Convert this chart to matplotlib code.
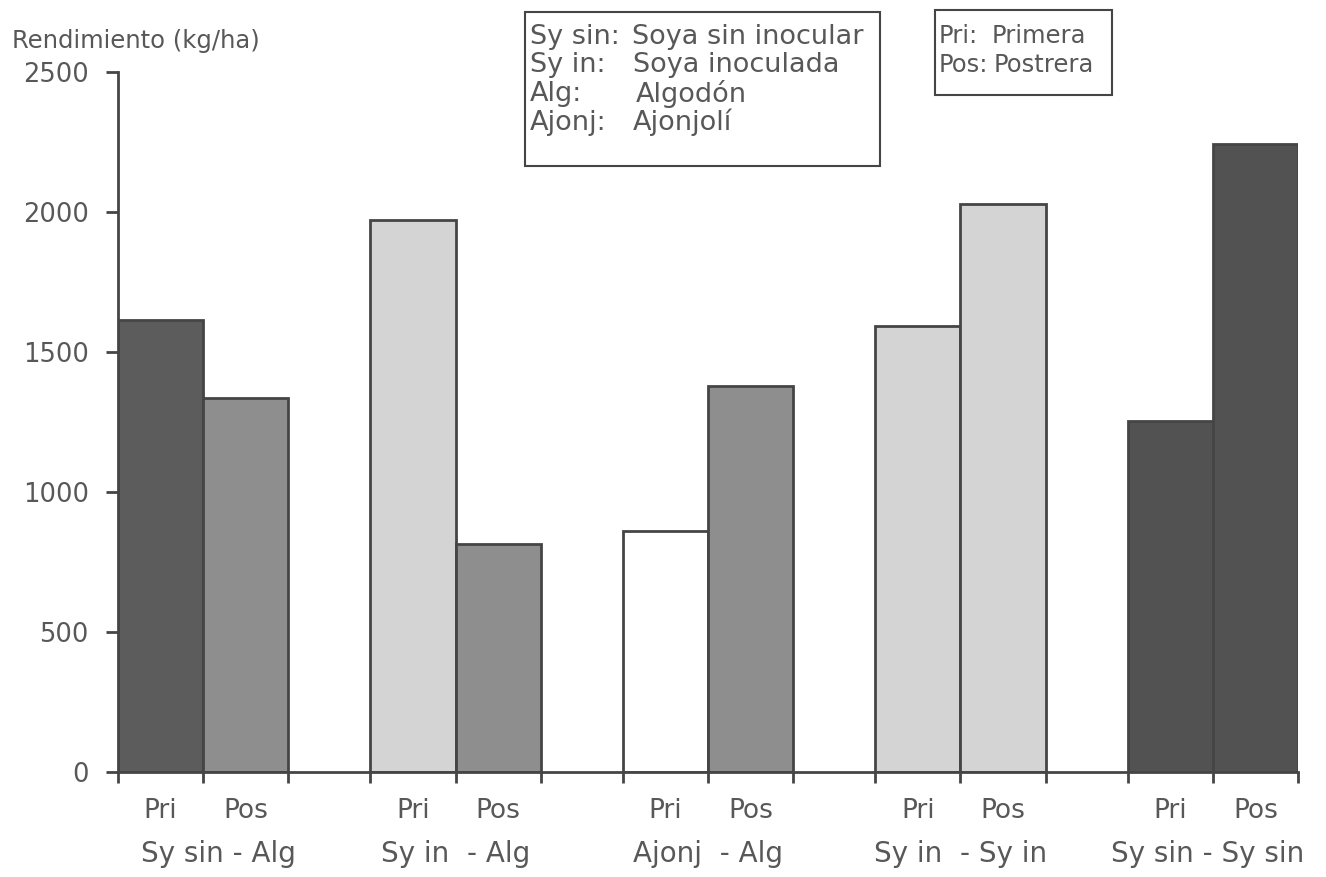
import matplotlib
matplotlib.use("Agg")
import matplotlib.pyplot as plt
from matplotlib.patches import Rectangle

plt.rcParams['font.family'] = ['DejaVu Sans']

groups = ["Sy sin - Alg", "Sy in  - Alg", "Ajonj  - Alg", "Sy in  - Sy in", "Sy sin - Sy sin"]
pri_values = [1614, 1971, 862, 1593, 1255]
pos_values = [1336, 814, 1377, 2029, 2242]
pri_colors = ["#5c5c5c", "#d4d4d4", "#ffffff", "#d4d4d4", "#525252"]
pos_colors = ["#8e8e8e", "#8e8e8e", "#8e8e8e", "#d4d4d4", "#525252"]
season_labels = ["Pri", "Pos"]
yticks = [0, 500, 1000, 1500, 2000, 2500]

txt = "#585858"
edge = "#454545"

fig = plt.figure(figsize=(13.26, 8.77), dpi=100)
ax = fig.add_axes([118/1326, 1-772/877, (1298-118)/1326, 700/877])

spacing = 2.97
centers = [i*spacing for i in range(len(groups))]
pri_x = [c - 0.5 for c in centers]
pos_x = [c + 0.5 for c in centers]

ax.bar(pri_x, pri_values, width=1.0, color=pri_colors, edgecolor=edge, linewidth=2, zorder=2)
ax.bar(pos_x, pos_values, width=1.0, color=pos_colors, edgecolor=edge, linewidth=2, zorder=2)

ax.set_xlim(centers[0]-1, centers[-1]+1)
ax.set_ylim(0, 2500)
for s in ["top", "right"]:
    ax.spines[s].set_visible(False)
for s in ["left", "bottom"]:
    ax.spines[s].set_color(edge)
    ax.spines[s].set_linewidth(2)

ax.set_yticks(yticks)
ax.set_yticklabels([str(v) for v in yticks], fontsize=18.5, color=txt)
ax.tick_params(axis='y', length=9, width=2, color=edge, pad=12)

edges = []
for c in centers:
    edges += [c-1, c, c+1]
ax.set_xticks(edges)
ax.set_xticklabels([""]*len(edges))
ax.tick_params(axis='x', length=8, width=2, color=edge)

for c in centers:
    ax.text(c-0.5, -140, season_labels[0], ha='center', va='center', fontsize=19, color=txt)
    ax.text(c+0.5, -140, season_labels[1], ha='center', va='center', fontsize=19, color=txt)
label_shift = [0.18, 0.0, 0.0, 0.0, -0.06]
for c, g, d in zip(centers, groups, label_shift):
    ax.text(c + d, -292, g, ha='center', va='center', fontsize=20, color=txt)

fig.text(12/1326, 1-41/877, "Rendimiento (kg/ha)", fontsize=17.5, color=txt, va='center', ha='left')

# legend box 1
fig.patches.append(Rectangle((525/1326, 1-166/877), 355/1326, 154/877, transform=fig.transFigure,
                             fill=False, edgecolor=edge, linewidth=1.5))
abbr = ["Sy sin:", "Sy in:", "Alg:", "Ajonj:"]
full = ["Soya sin inocular", "Soya inoculada", "Algodón", "Ajonjolí"]
full_x = [632, 633, 636, 633]
for i, (a, f) in enumerate(zip(abbr, full)):
    y = 1 - (37 + i*28.5)/877
    fig.text(530/1326, y, a, fontsize=19.5, color=txt, va='center', ha='left')
    fig.text(full_x[i]/1326, y, f, fontsize=19.5, color=txt, va='center', ha='left')

# legend box 2
fig.patches.append(Rectangle((935/1326, 1-95/877), 177/1326, 85/877, transform=fig.transFigure,
                             fill=False, edgecolor=edge, linewidth=1.5))
abbr2 = ["Pri:", "Pos:"]
full2 = ["Primera", "Postrera"]
full2_x = [992, 994]
for i, (a, f) in enumerate(zip(abbr2, full2)):
    y = 1 - (36 + i*29)/877
    fig.text(939/1326, y, a, fontsize=17.5, color=txt, va='center', ha='left')
    fig.text(full2_x[i]/1326, y, f, fontsize=17.5, color=txt, va='center', ha='left')

fig.savefig("out.png", dpi=100, facecolor="white")
